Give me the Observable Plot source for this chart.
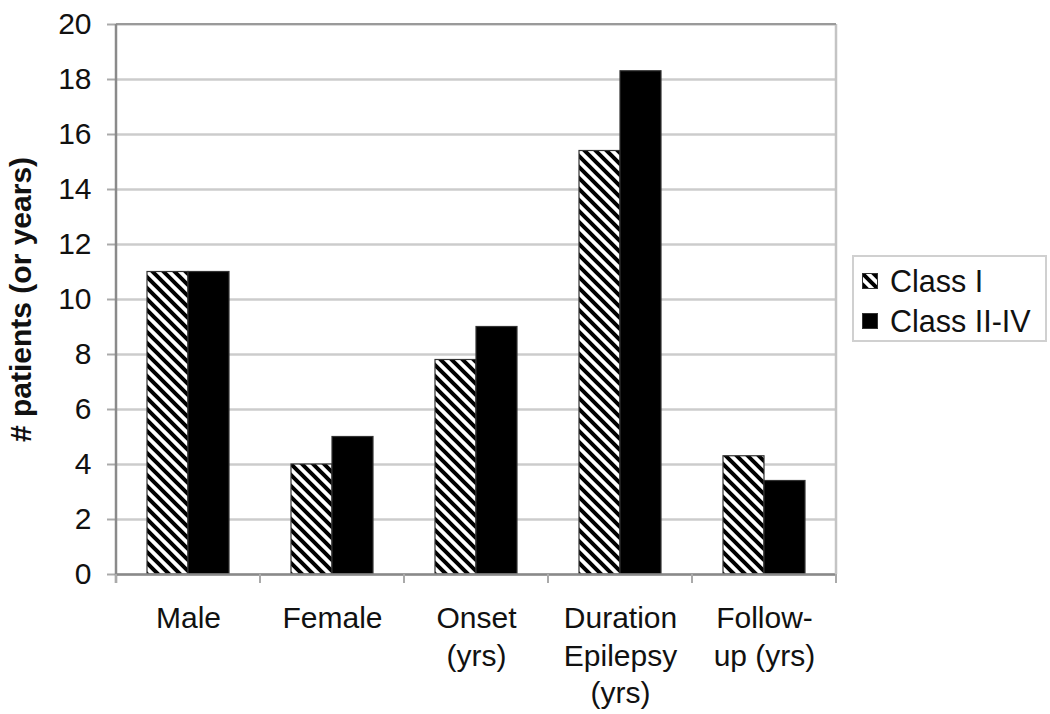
<!DOCTYPE html>
<html>
<head>
<meta charset="utf-8">
<script src="https://cdn.jsdelivr.net/npm/d3@7"></script>
<script src="https://cdn.jsdelivr.net/npm/@observablehq/plot@0.6"></script>
<style>
  html, body { margin: 0; padding: 0; background: #fff; }
  #wrap { position: relative; width: 1050px; height: 714px; font-family: "Liberation Sans", Arial, sans-serif; }
  #legend { position: absolute; left: 852px; top: 255px; width: 191px; height: 83px; border: 2px solid #d0d0d0; background: #fff; box-sizing: content-box; }
  .item { position: absolute; left: 8px; display: flex; align-items: center; font-size: 30.5px; line-height: 30px; color: #111; white-space: nowrap; }
  .item svg { margin-right: 12px; }
</style>
</head>
<body>
<div id="wrap"></div>
<script>
// ---- data ----
const categories = ["Male", "Female", "Onset (yrs)", "Duration Epilepsy (yrs)", "Follow-up (yrs)"];
const categoryLabels = ["Male", "Female", "Onset\n(yrs)", "Duration\nEpilepsy\n(yrs)", "Follow-\nup (yrs)"];
const seriesNames = ["Class I", "Class II-IV"];
const classI = [11, 4, 7.8, 15.4, 4.3];
const classIItoIV = [11, 5, 9, 18.3, 3.4];
const yTicks = [0, 2, 4, 6, 8, 10, 12, 14, 16, 18, 20];
const yLabel = "# patients (or years)";

const data = categories.flatMap((c, i) => [
  {cat: c, series: seriesNames[0], value: classI[i]},
  {cat: c, series: seriesNames[1], value: classIItoIV[i]}
]);

const plot = Plot.plot({
  width: 1050,
  height: 714,
  marginLeft: 114,
  marginRight: 212,
  marginTop: 24,
  marginBottom: 140,
  style: {fontFamily: "'Liberation Sans', Arial, sans-serif", fontSize: "30px", color: "#111", background: "#fff", overflow: "visible"},
  fx: {domain: categories, padding: 0, label: null},
  x: {domain: seriesNames, paddingInner: 0, paddingOuter: 0.72, axis: null},
  y: {domain: [0, 20], ticks: yTicks},
  color: {domain: seriesNames, range: ["url(#hatch)", "#000"]},
  marks: [
    Plot.gridY(yTicks, {stroke: "#cccccc", strokeWidth: 2.5, strokeOpacity: 1}),
    Plot.barY(data, {fx: "cat", x: "series", y: "value", fill: "series", stroke: "#333", strokeWidth: 1.2}),
    Plot.ruleY([0], {stroke: "#8a8a8a", strokeWidth: 2.5}),
    Plot.axisY(yTicks, {
      tickSize: 9, tickPadding: 16, stroke: "#aaa", strokeWidth: 2,
      label: yLabel, labelAnchor: "center", labelArrow: "none", labelOffset: 107,
      tickFormat: d => String(d)
    }),
    Plot.axisFx({
      anchor: "bottom",
      tickSize: 0, tickPadding: 27, lineHeight: 1.25,
      tickFormat: d => categoryLabels[categories.indexOf(d)], label: null
    })
  ]
});

// hatch pattern
const svg = d3.select(plot);
const defs = svg.insert("defs", ":first-child");
const pat = defs.append("pattern").attr("id", "hatch").attr("patternUnits", "userSpaceOnUse")
  .attr("width", 11).attr("height", 11);
pat.append("rect").attr("width", 11).attr("height", 11).attr("fill", "#fff");
pat.append("path").attr("d", "M0,0L11,11M-3,8L3,14M8,-3L14,3")
  .attr("stroke", "#000").attr("stroke-width", 4).attr("stroke-linecap", "square");

// bold y label
svg.selectAll("g[aria-label='y-axis label'] text").attr("font-weight", "bold");

// axis lines and category boundary ticks via the plot's own scales
const fx = plot.scale("fx");
const ys = plot.scale("y");
const y0 = ys.apply(0), y20 = ys.apply(20);
const left = fx.apply(categories[0]);
const right = fx.apply(categories[categories.length - 1]) + fx.bandwidth;
const g = svg.append("g");
g.append("line").attr("x1", right).attr("x2", right).attr("y1", y20).attr("y2", y0)
  .attr("stroke", "#c4c4c4").attr("stroke-width", 2.5);
g.append("line").attr("x1", left).attr("x2", right).attr("y1", y20).attr("y2", y20)
  .attr("stroke", "#9a9a9a").attr("stroke-width", 2);
g.append("line").attr("x1", left).attr("x2", left).attr("y1", y20).attr("y2", y0 + 9)
  .attr("stroke", "#8a8a8a").attr("stroke-width", 2.5);
const bounds = categories.map(c => fx.apply(c)).concat([right]);
g.selectAll("line.b").data(bounds).join("line").attr("class", "b")
  .attr("x1", d => d).attr("x2", d => d).attr("y1", y0).attr("y2", y0 + 9)
  .attr("stroke", "#aaa").attr("stroke-width", 2);

const wrap = document.getElementById("wrap");
wrap.appendChild(plot);

// legend
const legend = document.createElement("div");
legend.id = "legend";
const fills = ["url(#hatch)", "#000"];
seriesNames.forEach((s, i) => {
  const item = document.createElement("div");
  item.className = "item";
  item.style.top = (9 + i * 40) + "px";
  item.innerHTML = `<svg width="16" height="16"><rect x="0.5" y="0.5" width="15" height="15" fill="${fills[i]}" stroke="#333" stroke-width="1"/></svg><span>${s}</span>`;
  legend.appendChild(item);
});
wrap.appendChild(legend);
</script>
</body>
</html>
